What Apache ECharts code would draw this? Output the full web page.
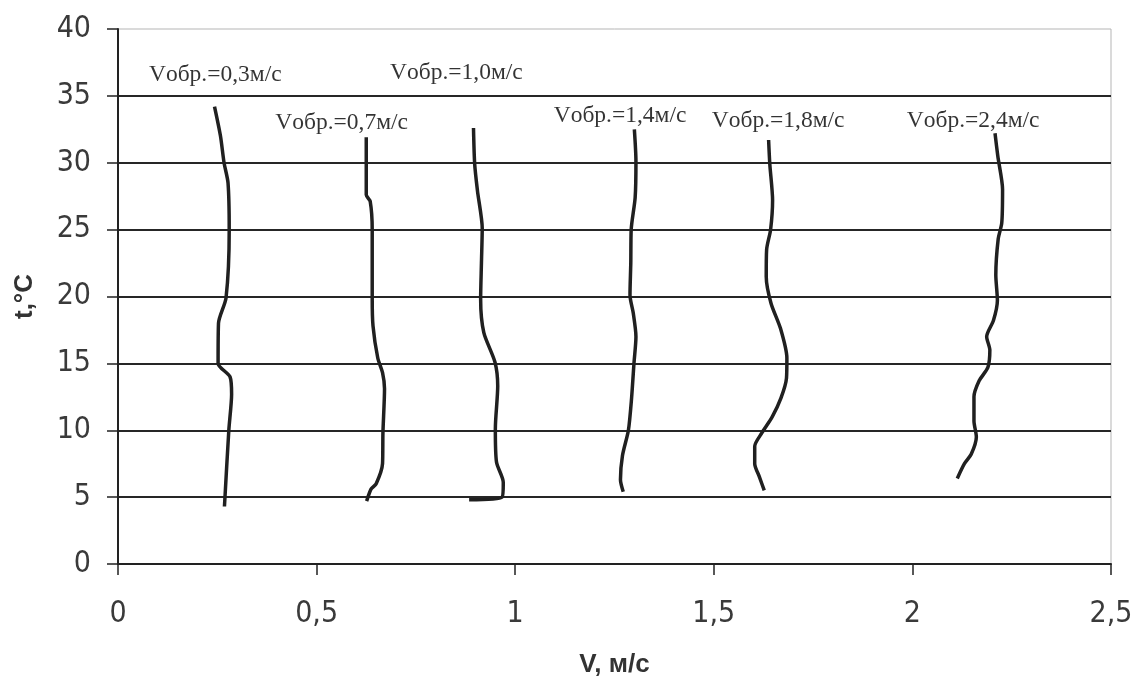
<!DOCTYPE html>
<html>
<head>
<meta charset="utf-8">
<script src="https://cdn.jsdelivr.net/npm/echarts@6/dist/echarts.min.js"></script>
<style>
html,body{margin:0;padding:0;background:#fff;}
#chart{width:1137px;height:677px;}
</style>
</head>
<body>
<div id="chart"></div>
<script>
// ---- data ----
const xTicks = [0, 0.5, 1, 1.5, 2, 2.5];
const yTicks = [0, 5, 10, 15, 20, 25, 30, 35, 40];

const v03_V = [0.243, 0.258, 0.267, 0.277, 0.280, 0.272, 0.253, 0.252, 0.282, 0.286, 0.279, 0.268];
const v03_t = [34.2, 32.0, 30.0, 28.5, 25.0, 19.9, 18.0, 15.0, 14.0, 12.7, 10.0, 4.3];

const v07_V = [0.625, 0.625, 0.635, 0.640, 0.640, 0.642, 0.654, 0.666, 0.671, 0.667, 0.666, 0.650, 0.637, 0.626];
const v07_t = [31.9, 27.6, 27.1, 25.0, 19.9, 17.8, 15.4, 14.3, 13.1, 9.8, 7.5, 6.0, 5.6, 4.7];

const v10_V = [0.895, 0.898, 0.905, 0.917, 0.915, 0.913, 0.921, 0.949, 0.956, 0.950, 0.953, 0.970, 0.967, 0.884];
const v10_t = [32.6, 29.9, 27.9, 25.1, 22.5, 19.8, 17.3, 15.1, 13.3, 10.1, 7.6, 6.1, 5.0, 4.8];

const v14_V = [1.300, 1.304, 1.302, 1.292, 1.291, 1.289, 1.297, 1.304, 1.299, 1.293, 1.285, 1.270, 1.265, 1.272];
const v14_t = [32.5, 30.1, 27.4, 25.0, 22.5, 20.1, 18.8, 17.0, 15.0, 12.4, 10.0, 8.1, 6.3, 5.4];

const v18_V = [1.638, 1.641, 1.648, 1.643, 1.633, 1.632, 1.644, 1.668, 1.684, 1.683, 1.669, 1.647, 1.621, 1.603, 1.603, 1.615, 1.627];
const v18_t = [31.7, 29.9, 27.2, 25.0, 23.5, 21.5, 19.5, 17.6, 15.4, 13.9, 12.4, 11.0, 9.8, 8.8, 7.5, 6.5, 5.5];

const v24_V = [2.208, 2.215, 2.227, 2.225, 2.216, 2.210, 2.214, 2.204, 2.187, 2.195, 2.190, 2.168, 2.155, 2.155, 2.161, 2.148, 2.131, 2.113];
const v24_t = [32.2, 30.5, 28.0, 25.5, 24.3, 21.6, 19.7, 18.2, 17.0, 16.0, 14.7, 13.7, 12.5, 10.7, 9.5, 8.2, 7.5, 6.4];

const curveLabels = ['Vобр.=0,3м/с', 'Vобр.=0,7м/с', 'Vобр.=1,0м/с', 'Vобр.=1,4м/с', 'Vобр.=1,8м/с', 'Vобр.=2,4м/с'];
// label anchor (V, t) in data units
const labelV = [0.245, 0.563, 0.852, 1.264, 1.662, 2.153];
const labelT = [36.6, 32.96, 36.7, 33.5, 33.15, 33.1];

const xName = 'V, м/с';
const yName = 't,°C';

// ---- build ----
const zip = (a, b) => a.map((v, i) => [v, b[i]]);
const curves = [
  zip(v03_V, v03_t), zip(v07_V, v07_t), zip(v10_V, v10_t),
  zip(v14_V, v14_t), zip(v18_V, v18_t), zip(v24_V, v24_t)
];

const lineColor = '#202020';
const series = curves.map((d, i) => ({
  type: 'line',
  name: curveLabels[i],
  data: d,
  showSymbol: false,
  smooth: 0.25,
  lineStyle: { color: lineColor, width: 3.5 },
  z: 3
}));

series.push({
  type: 'scatter',
  symbolSize: 0,
  data: labelV.map((v, i) => ({ value: [v, labelT[i]], name: curveLabels[i] })),
  label: {
    show: true,
    position: 'inside',
    formatter: p => p.name,
    fontFamily: '"Liberation Serif", "Times New Roman", serif',
    fontSize: 23.5,
    color: '#000'
  },
  z: 4
});

const chart = echarts.init(document.getElementById('chart'), null, { renderer: 'canvas' });
chart.setOption({
  animation: false,
  backgroundColor: '#ffffff',
  grid: {
    left: 118, right: 26, top: 29, bottom: 113,
    outerBoundsMode: 'none',
    containLabel: false,
    show: true, borderColor: '#b5b5b5', borderWidth: 1, backgroundColor: 'transparent'
  },
  xAxis: {
    type: 'value',
    min: xTicks[0], max: xTicks[xTicks.length - 1], interval: 0.5,
    name: xName,
    nameLocation: 'middle',
    nameGap: 88,
    nameTextStyle: { fontFamily: '"Liberation Sans", Arial, sans-serif', fontWeight: 'bold', fontSize: 26, color: '#333' },
    axisLine: { show: true, onZero: false, lineStyle: { color: '#222', width: 2 } },
    axisTick: { show: true, inside: false, length: 11, lineStyle: { color: '#222', width: 1.5 } },
    axisLabel: {
      margin: 35,
      fontFamily: '"DejaVu Sans Condensed", "Liberation Sans Narrow", "Liberation Sans", sans-serif',
      fontSize: 30, color: '#3a3a3a',
      formatter: v => String(v).replace('.', ',')
    },
    splitLine: { show: false }
  },
  yAxis: {
    type: 'value',
    min: yTicks[0], max: yTicks[yTicks.length - 1], interval: 5,
    name: yName,
    nameLocation: 'middle',
    nameGap: 80,
    nameTextStyle: { fontFamily: '"Liberation Sans", Arial, sans-serif', fontWeight: 'bold', fontSize: 26, color: '#333' },
    axisLine: { show: true, lineStyle: { color: '#222', width: 2 } },
    axisTick: { show: true, inside: false, length: 11, lineStyle: { color: '#222', width: 1.5 } },
    axisLabel: {
      margin: 27,
      fontFamily: '"DejaVu Sans Condensed", "Liberation Sans Narrow", "Liberation Sans", sans-serif',
      fontSize: 30, color: '#3a3a3a'
    },
    splitLine: { show: true, showMaxLine: false, lineStyle: { color: '#262626', width: 2 } }
  },
  series: series
});
</script>
</body>
</html>
